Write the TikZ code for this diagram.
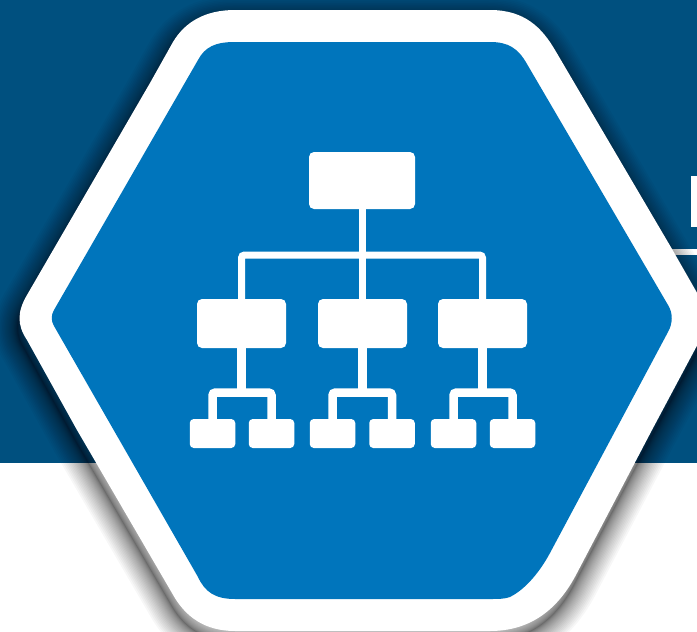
\documentclass[tikz,border=0pt]{standalone}
\definecolor{navy}{HTML}{00507F}
\definecolor{hexblue}{HTML}{0075BC}
\newcommand{\outerhex}{(235,10) -- (490,10) .. controls (525,10) and (542,28) .. (555,50) -- (672,249) -- (700,298) .. controls (708,312) and (708,325) .. (700,340) -- (652,430) -- (577,573) .. controls (558,610) and (530,631) .. (490,631) -- (235,631) .. controls (205,631) and (185,617) .. (172,593) -- (77,430) -- (27,340) .. controls (17,325) and (17,312) .. (27,295) -- (150,83) -- (173,42) .. controls (185,22) and (205,10) .. (235,10) -- cycle}
\tikzset{
  x=1pt,y=-1pt,
  bigbox/.style={fill=white,rounded corners=5pt,inner sep=0pt,minimum width=#1},
  topbox/.style={bigbox=106pt,minimum height=57pt},
  midbox/.style={bigbox=89pt,minimum height=49pt},
  smallbox/.style={bigbox=45.5pt,minimum height=29pt,rounded corners=4pt},
  trunk/.style={draw=white,line width=7pt,rounded corners=3pt},
  twig/.style={draw=white,line width=8.5pt,rounded corners=3pt}
}
\begin{document}
\begin{tikzpicture}
\useasboundingbox (0,0) rectangle (697,632);
\begin{scope}
\clip (0,0) rectangle (697,632);
\fill[white] (0,0) rectangle (697,632);
\fill[navy] (0,0) rectangle (697,463);
% detail at the right edge
\fill[white] (691,176) rectangle (697,227);
\fill[white] (660,249) rectangle (697,255);
% soft shadow
\foreach \i in {1,...,26}{
  \pgfmathsetlengthmacro{\wd}{0.07*\i*\i}
  \draw[black,line width=\wd,line join=round,draw opacity=0.03,xshift=-2pt,yshift=-10pt] \outerhex;
}
\fill[white] \outerhex;
\fill[hexblue] (235,42) -- (490,42) .. controls (508,42) and (518,48) .. (527,64) -- (668,305) .. controls (673,313) and (673,323) .. (668,332) -- (550,553) .. controls (537,577) and (522,591) .. (510,597) .. controls (505,599) and (498,599) .. (490,599) -- (235,599) .. controls (215,599) and (205,592) .. (198,577) -- (54,326) .. controls (51,321) and (51,315) .. (54,310) -- (198,60) .. controls (205,47) and (215,42) .. (235,42) -- cycle;
\end{scope}
% chart
\coordinate (bus) at (362.5,255);
\coordinate (b1) at (241.5,392.5);
\coordinate (b2) at (362.5,392.5);
\coordinate (b3) at (482.5,392.5);
\node[topbox] (top) at (362,180.5) {};
\node[midbox] (m1) at (241.5,323.5) {};
\node[midbox] (m2) at (362.5,323.5) {};
\node[midbox] (m3) at (482.5,323.5) {};
\node[smallbox] (s11) at (212.5,433.5) {};
\node[smallbox] (s12) at (271.5,433.5) {};
\node[smallbox] (s21) at (332.5,433.5) {};
\node[smallbox] (s22) at (392,433.5) {};
\node[smallbox] (s31) at (453.5,433.5) {};
\node[smallbox] (s32) at (512.5,433.5) {};
\draw[trunk] (top.south -| bus) -- (m2.north -| bus);
\draw[trunk] (m1.north) |- (bus) -| (m3.north);
\draw[twig] (m1.south) -- (b1);
\draw[twig] (m2.south) -- (b2);
\draw[twig] (m3.south) -- (b3);
\draw[twig] (s11.north) |- (b1) -| (s12.north);
\draw[twig] (s21.north) |- (b2) -| (s22.north);
\draw[twig] (s31.north) |- (b3) -| (s32.north);
\end{tikzpicture}
\end{document}
